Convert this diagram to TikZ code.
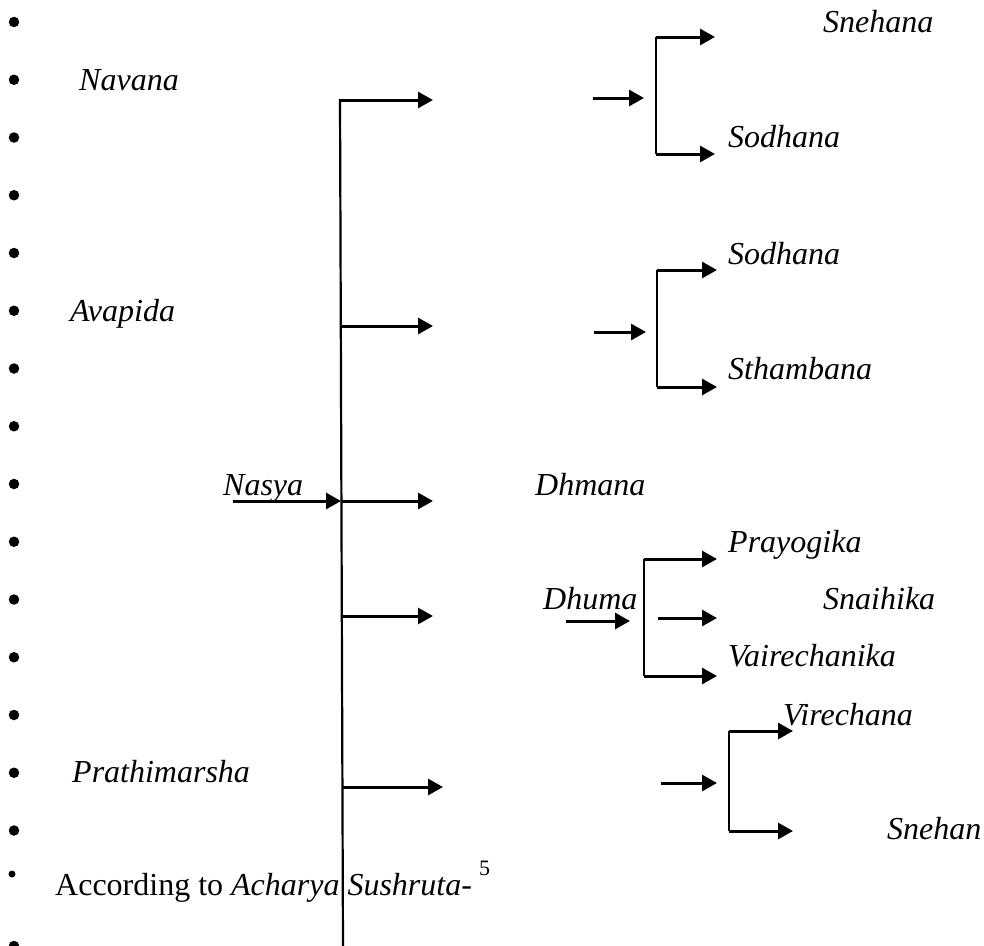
\documentclass[tikz,border=0pt]{standalone}
\usepackage{fontspec}
\setmainfont{Liberation Serif}
\usetikzlibrary{arrows.meta}

\tikzset{
  term/.style={font=\fontsize{32}{38}\selectfont\itshape, anchor=base west, inner sep=0pt},
  arr/.style={draw, -{Triangle[length=15pt,width=16pt]}, line width=3pt},
  stem/.style={line width=2.2pt},
  dot/.style={circle, fill, inner sep=0pt, minimum size=10.5pt}
}

\begin{document}
\begin{tikzpicture}[x=1pt,y=-1pt]

      \useasboundingbox (0,0) rectangle (984,945);

      % Bullets
      \foreach \k in {0,...,14}
        \node[dot] (b\k) at (14,{22+57.75*\k}) {};
      \node[dot, minimum size=7pt] (b15) at (12,874) {};
      \node[dot] (b16) at (14,946) {};

      % Nodes
      \begin{scope}[every node/.style={term}]
        \node (navana) at (79,90) {Navana};
        \node (avapida) at (70,321) {Avapida};
        \node (nasya) at (223,495) {Nasya};
        \node (prathi) at (72,782) {Prathimarsha};
        \node (dhmana) at (535,495) {Dhmana};
        \node (dhuma) at (543,609) {Dhuma};

        \node (sneha1) at (823,32) {Snehana};
        \node (sodh1) at (728,147) {Sodhana};
        \node (sodh2) at (728,264) {Sodhana};
        \node (stham) at (728,379) {Sthambana};
        \node (prayo) at (728,552) {Prayogika};
        \node (snai) at (823,609) {Snaihika};
        \node (vaire) at (728,666) {Vairechanika};
        \node (vire) at (783,725) {Virechana};
        \node (sneha2) at (887,839) {Snehan};

        \node[font=\fontsize{32}{38}\selectfont] (acc) at (55,895)
          {According to \textit{Acharya Sushruta}-};
        \node[font=\fontsize{22}{26}\selectfont] (ref) at (479,875) {5};
      \end{scope}

      % Trunk
      \coordinate (top) at (340,99);
      \coordinate (bot) at (343,950);
      \draw[stem] (top) -- (bot);

      \coordinate (t1) at (340,100);
      \coordinate (t2) at (341,326);
      \coordinate (t3) at (341,501);
      \coordinate (t4) at (342,616);
      \coordinate (t5) at (343,787);
      \coordinate (n0) at (233,501);

      \coordinate (p1) at (433,100);
      \coordinate (p2) at (433,326);
      \coordinate (p3) at (433,501);
      \coordinate (p4) at (433,616);
      \coordinate (p5) at (443,787);

      % Brackets
      \coordinate (g1i) at (593,98);  \coordinate (g1o) at (644,98);
      \coordinate (g1t) at (656,37);  \coordinate (g1b) at (656,154);
      \coordinate (g1a) at (715,37);  \coordinate (g1c) at (715,154);

      \coordinate (g2i) at (594,332); \coordinate (g2o) at (646,332);
      \coordinate (g2t) at (657,270); \coordinate (g2b) at (657,387);
      \coordinate (g2a) at (717,270); \coordinate (g2c) at (717,387);

      \coordinate (g3i) at (566,621); \coordinate (g3o) at (630,621);
      \coordinate (g3t) at (644,559); \coordinate (g3b) at (644,676);
      \coordinate (g3a) at (717,559); \coordinate (g3c) at (717,676);
      \coordinate (g3m) at (658,618); \coordinate (g3n) at (717,618);

      \coordinate (g4i) at (661,783); \coordinate (g4o) at (717,783);
      \coordinate (g4t) at (729,731); \coordinate (g4b) at (729,831);
      \coordinate (g4a) at (793,731); \coordinate (g4c) at (793,831);

      \draw[stem] (g1t) -- (g1b);
      \draw[stem] (g2t) -- (g2b);
      \draw[stem] (g3t) -- (g3b);
      \draw[stem] (g4t) -- (g4b);

      % Edges
      \begin{scope}[every edge/.style={arr}]
        \path (n0) edge (t3);
        \path (t1) edge (p1);
        \path (t2) edge (p2);
        \path (t3) edge (p3);
        \path (t4) edge (p4);
        \path (t5) edge (p5);

        \path (g1i) edge (g1o);
        \path (g1t) edge (g1a);
        \path (g1b) edge (g1c);

        \path (g2i) edge (g2o);
        \path (g2t) edge (g2a);
        \path (g2b) edge (g2c);

        \path (g3i) edge (g3o);
        \path (g3t) edge (g3a);
        \path (g3m) edge (g3n);
        \path (g3b) edge (g3c);

        \path (g4i) edge (g4o);
        \path (g4t) edge (g4a);
        \path (g4b) edge (g4c);
      \end{scope}

    \end{tikzpicture}
\end{document}
